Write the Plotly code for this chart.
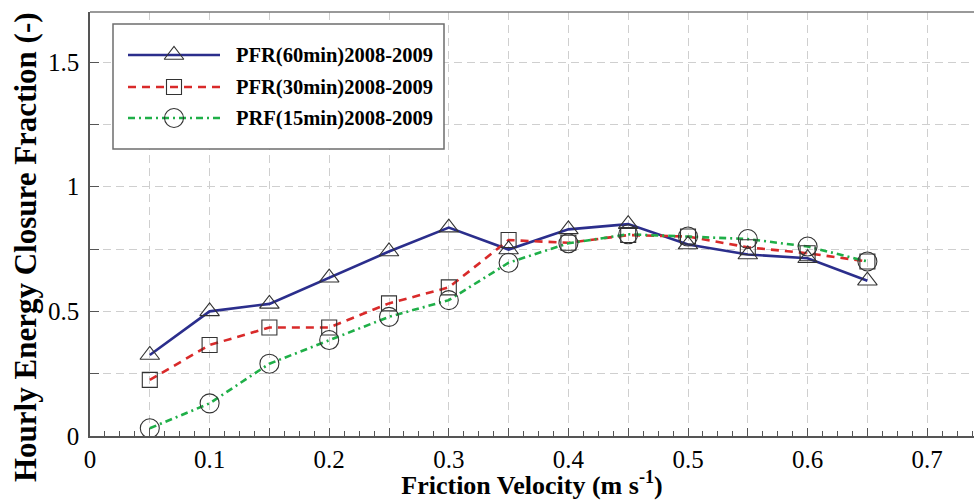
import plotly.graph_objects as go

# Friction velocity bins (m s-1)
u_star = [0.05, 0.10, 0.15, 0.20, 0.25, 0.30, 0.35, 0.40, 0.45, 0.50, 0.55, 0.60, 0.65]

# Hourly energy closure fraction per averaging period
pfr_60 = [0.325, 0.50, 0.53, 0.635, 0.74, 0.836, 0.748, 0.829, 0.85, 0.768, 0.728, 0.713, 0.623]
pfr_30 = [0.225, 0.365, 0.435, 0.435, 0.532, 0.596, 0.786, 0.775, 0.806, 0.80, 0.757, 0.733, 0.70]
prf_15 = [0.031, 0.131, 0.29, 0.385, 0.478, 0.545, 0.695, 0.773, 0.809, 0.80, 0.79, 0.76, 0.70]

series_names = ["PFR(60min)2008-2009", "PFR(30min)2008-2009", "PRF(15min)2008-2009"]
series_colors = ["#2B2E8C", "#D92A2A", "#1FAF48"]
series_dash = ["solid", "8px,6px", "7px,4px,2px,4px"]
series_symbols = ["triangle-up-open", "square-open", "circle-open"]
series_sizes = [17, 15, 19]

x_ticks = [round(0.05 * i, 2) for i in range(15)]
x_labels = [("0" if v == 0 else f"{v:g}") if i % 2 == 0 else "" for i, v in enumerate(x_ticks)]
y_ticks = [0.25 * i for i in range(7)]
y_labels = [f"{v:g}" if i % 2 == 0 else "" for i, v in enumerate(y_ticks)]

SERIF = "Liberation Serif, Times New Roman, serif"
W, H = 974, 500
ML, MR, MT, MB = 90, 0, 12, 64
X_PX_PER_UNIT, Y_PX_PER_UNIT = 1196, 249.3

fig = go.Figure()

for name, ys, col, dash in zip(series_names, [pfr_60, pfr_30, prf_15], series_colors, series_dash):
    fig.add_trace(go.Scatter(
        x=u_star, y=ys, mode="lines", name=name, showlegend=False,
        line=dict(color=col, width=2.6, dash=dash),
    ))
for ys, sym, sz in zip([pfr_60, pfr_30, prf_15], series_symbols, series_sizes):
    fig.add_trace(go.Scatter(
        x=u_star, y=ys, mode="markers", showlegend=False, hoverinfo="skip",
        marker=dict(symbol=sym, size=sz, color="#333333", line=dict(width=1.1, color="#333333")),
    ))

# Legend drawn on an overlay axis measured in pixels from the plot-area top-left corner
plot_w, plot_h = W - ML - MR, H - MT - MB
leg_left, leg_right, leg_top, leg_bottom = 23, 354, 12, 137
sample_x0, sample_x1, marker_x, text_x = 38, 130, 84, 144
row_y = [43, 75, 106]

# legend frame in main-axis units so it can sit between grid and traces
fig.add_shape(type="rect", xref="x", yref="y",
              x0=leg_left / X_PX_PER_UNIT, x1=leg_right / X_PX_PER_UNIT,
              y0=(plot_h - leg_bottom) / Y_PX_PER_UNIT, y1=(plot_h - leg_top) / Y_PX_PER_UNIT,
              line=dict(color="#6E6E6E", width=1.5), fillcolor="white", layer="between")

for name, col, dash, sym, sz, yy in zip(series_names, series_colors, series_dash,
                                        series_symbols, series_sizes, row_y):
    fig.add_trace(go.Scatter(
        x=[sample_x0, sample_x1], y=[yy, yy], xaxis="x2", yaxis="y2", mode="lines",
        showlegend=False, hoverinfo="skip", line=dict(color=col, width=2.6, dash=dash),
    ))
    fig.add_trace(go.Scatter(
        x=[marker_x], y=[yy], xaxis="x2", yaxis="y2", mode="markers",
        showlegend=False, hoverinfo="skip",
        marker=dict(symbol=sym, size=sz, color="#333333", line=dict(width=1.1, color="#333333")),
    ))
    fig.add_annotation(x=text_x, y=yy, xref="x2", yref="y2", text=f"<b>{name}</b>",
                       showarrow=False, xanchor="left", yanchor="middle",
                       font=dict(family=SERIF, size=20.5, color="black"))

# Y-axis title, placed as a rotated annotation (centred a little below the plot middle)
y_title_cx, y_title_cy = 25, 247
fig.add_annotation(x=(y_title_cx - ML) / plot_w, y=(MT + plot_h - y_title_cy) / plot_h,
                   xref="paper", yref="paper", textangle=-90, showarrow=False,
                   xanchor="center", yanchor="middle",
                   text="<b>Hourly Energy Closure Fraction (-)</b>",
                   font=dict(family=SERIF, size=31, color="black"))

# Top frame line
fig.add_shape(type="line", xref="paper", yref="paper", x0=0, x1=1, y0=1, y1=1,
              line=dict(color="#777777", width=1.5), layer="above")

grid = dict(showgrid=True, gridcolor="#CFCFCF", griddash="8px,5px", gridwidth=1)

fig.update_layout(
    width=W, height=H,
    margin=dict(l=ML, r=MR, t=MT, b=MB, autoexpand=False),
    plot_bgcolor="white", paper_bgcolor="white",
    font=dict(family=SERIF, color="black"),
    xaxis=dict(
        range=[0, plot_w / X_PX_PER_UNIT], tickvals=x_ticks, ticktext=x_labels,
        ticks="inside", ticklen=8, tickcolor="#555555", tickwidth=1,
        minor=dict(dtick=0.0125, tick0=0, ticks="inside", ticklen=5, tickcolor="#555555", showgrid=False),
        showline=True, linecolor="#555555", linewidth=1.5,
        tickfont=dict(family=SERIF, size=25), zeroline=False,
        title=dict(text="<b>Friction Velocity (m s<sup>-1</sup>)</b>",
                   font=dict(family=SERIF, size=26), standoff=2),
        **grid,
    ),
    yaxis=dict(
        range=[0, plot_h / Y_PX_PER_UNIT], tickvals=y_ticks, ticktext=y_labels,
        ticks="inside", ticklen=9, tickcolor="#555555", tickwidth=1,
        showline=True, linecolor="#555555", linewidth=1.5,
        tickfont=dict(family=SERIF, size=25), zeroline=False, ticklabelstandoff=4,
        **grid,
    ),
    xaxis2=dict(overlaying="x", range=[0, plot_w], visible=False, fixedrange=True),
    yaxis2=dict(overlaying="y", range=[plot_h, 0], visible=False, fixedrange=True),
)

fig.write_html("out.html")
